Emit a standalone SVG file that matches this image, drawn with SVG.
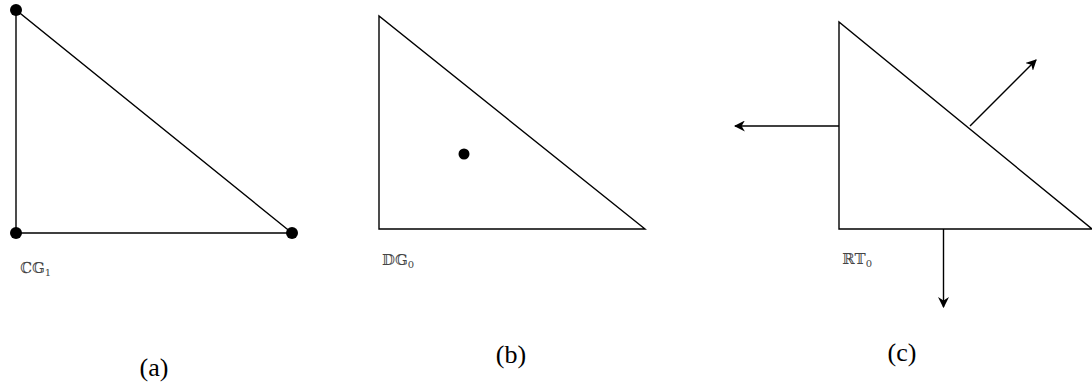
<svg xmlns="http://www.w3.org/2000/svg" width="1092" height="387" viewBox="0 0 1092 387">
<style>
.tri{fill:none;stroke:#000;stroke-width:1.4;stroke-linejoin:miter}
.dot{fill:#000}
.arr{stroke:#000;stroke-width:1.4;fill:none;marker-end:url(#ah)}
.lbl{font-family:"DejaVu Serif","DejaVu Sans","Noto Sans",serif;font-size:15px;fill:#444}
.sub{font-size:10px}
.cap{font-family:"Liberation Serif","Times New Roman",serif;font-size:26px;fill:#000;text-anchor:middle}
</style>
<defs>
<marker id="ah" viewBox="0 0 10 10" refX="9" refY="5" markerWidth="11" markerHeight="11" markerUnits="userSpaceOnUse" orient="auto">
<path d="M0,0 L10,5 L0,10 L3,5 Z" fill="#000"/>
</marker>
</defs>
<g id="node-a">
<path class="tri" d="M16,10 L16,233 L292,233 Z"/>
<circle class="dot" cx="16" cy="10" r="6"/>
<circle class="dot" cx="16" cy="233" r="6"/>
<circle class="dot" cx="292" cy="233" r="6"/>
<text class="lbl" x="20" y="273">ℂ𝔾<tspan class="sub" dy="3">1</tspan></text>
</g>
<g id="node-b">
<path class="tri" d="M379,16 L379,229 L645,229 Z"/>
<circle class="dot" cx="464" cy="154" r="5.5"/>
<text class="lbl" x="382" y="265">𝔻𝔾<tspan class="sub" dy="3">0</tspan></text>
</g>
<g id="node-c">
<path class="tri" d="M839,22 L839,229 L1092,229 Z"/>
<text class="lbl" x="842" y="264">ℝ𝕋<tspan class="sub" dy="3">0</tspan></text>
</g>
<g id="connectors">
<line class="arr" x1="839" y1="126" x2="735" y2="126"/>
<line class="arr" x1="970" y1="126" x2="1036" y2="60"/>
<line class="arr" x1="943.5" y1="229" x2="943.5" y2="307"/>
</g>
<g id="captions">
<text class="cap" x="154" y="376">(a)</text>
<text class="cap" x="511" y="363">(b)</text>
<text class="cap" x="902" y="361">(c)</text>
</g>
</svg>
